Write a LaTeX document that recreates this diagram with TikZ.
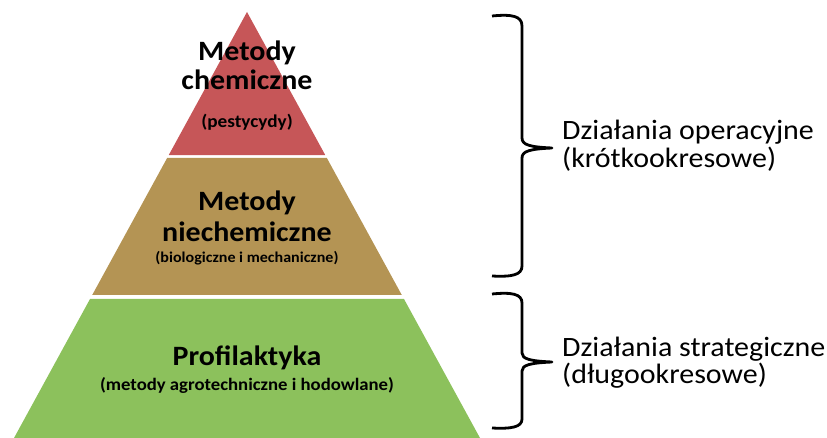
\documentclass[tikz,border=0pt]{standalone}
\usepackage{fontspec}
\setmainfont{Carlito}[FakeStretch=1.07]
\usepackage{xcolor}
\definecolor{chemred}{RGB}{198, 86, 88}
\definecolor{nonchem}{RGB}{180, 148, 84}
\definecolor{prophy}{RGB}{140, 193, 92}
\usetikzlibrary{calc}

\begin{document}
\begin{tikzpicture}[
  x=1pt, y=-1pt,
  laytitle/.style={font=\fontsize{28}{29}\selectfont\bfseries, align=center, inner sep=0pt, anchor=base},
  laysub/.style={font=\fontsize{18}{20}\selectfont\bfseries, inner sep=0pt, anchor=base},
  sidetext/.style={font=\fontsize{28}{28}\selectfont, align=left, inner sep=0pt, anchor=base west},
  bracket/.style={line width=2.8pt, line join=round}
]
\useasboundingbox (0,0) rectangle (827,438);

\coordinate (apex) at (247,12);
\coordinate (bl) at (14,438);
\coordinate (br) at (480,438);

% warstwy piramidy
\fill[chemred] (apex) -- ($(apex)!0.3357!(br)$) -- ($(apex)!0.3357!(bl)$) -- cycle;
\fill[nonchem] ($(apex)!0.3427!(bl)$) -- ($(apex)!0.3427!(br)$) -- ($(apex)!0.6643!(br)$) -- ($(apex)!0.6643!(bl)$) -- cycle;
\fill[prophy] ($(apex)!0.6737!(bl)$) -- ($(apex)!0.6737!(br)$) -- (br) -- (bl) -- cycle;

\node[laytitle] (chem) at (247,90) {Metody\\chemiczne};
\node[laysub] (chemsub) at (247,128) {(pestycydy)};
\node[laytitle, font=\fontsize{28}{31}\selectfont\bfseries] (niech) at (247,242) {Metody\\niechemiczne};
\node[laysub, font=\fontsize{15}{16}\selectfont\bfseries] (niechsub) at (247,263) {(biologiczne i mechaniczne)};
\node[laytitle] (prof) at (247,365) {Profilaktyka};
\node[laysub, font=\fontsize{17.5}{19}\selectfont\bfseries] (profsub) at (247,390) {(metody agrotechniczne i hodowlane)};

% nawiasy
\draw[bracket] (492,16) .. controls (512,14) and (522,16) .. (522,26) -- (522,138)
  .. controls (522,145) and (530,147) .. (552,148)
  .. controls (530,149) and (522,151) .. (522,158) -- (522,266)
  .. controls (522,275) and (512,277) .. (492,276);
\draw[bracket] (492,294) .. controls (512,292) and (522,294) .. (522,303) -- (522,353)
  .. controls (522,359) and (530,361) .. (552,362)
  .. controls (530,363) and (522,365) .. (522,371) -- (522,419)
  .. controls (522,427) and (512,429) .. (492,428);

\node[sidetext] (oper) at (562,168) {Działania operacyjne\\(krótkookresowe)};
\node[sidetext, font=\fontsize{28}{27}\selectfont] (strat) at (562,383) {Działania strategiczne\\(długookresowe)};
\end{tikzpicture}
\end{document}
